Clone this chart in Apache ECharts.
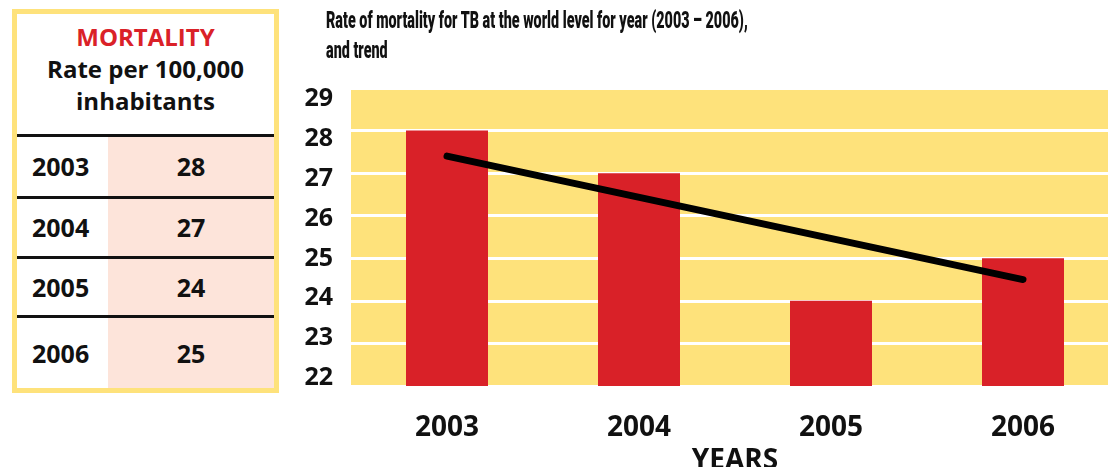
<!DOCTYPE html>
<html>
<head>
<meta charset="utf-8">
<script src="https://cdn.jsdelivr.net/npm/echarts@6/dist/echarts.min.js"></script>
<style>
  html, body { margin: 0; padding: 0; background: #fff; }
  #chart { position: absolute; left: 0; top: 0; width: 1108px; height: 467px; }
  #title {
    position: absolute; left: 326px; top: 6px; white-space: nowrap;
    font-family: Roboto, sans-serif; font-weight: 900; font-size: 23px; line-height: 29.5px;
    color: #111; transform-origin: 0 0;
  }
  #table {
    position: absolute; left: 12px; top: 9px; width: 267px; height: 384px;
    box-sizing: border-box; border: 5px solid #fee27b; background: #fff;
    font-family: 'Open Sans', sans-serif; font-weight: bold; color: #111;
    display: flex; flex-direction: column;
  }
  #table .head { height: 120px; text-align: center; font-size: 24px; line-height: 32px; padding-top: 7px; box-sizing: border-box; }
  #table .head .red { color: #da2128; }
  #table .row { display: flex; border-top: 3px solid #111; font-size: 25px; }
  #table .row .y { width: 91px; padding-left: 15px; box-sizing: border-box; display: flex; align-items: center; }
  #table .row .v { flex: 1; background: #fde4da; display: flex; align-items: center; justify-content: center; }
</style>
</head>
<body>
<div id="chart"></div>
<div id="title"></div>
<div id="table">
  <div class="head"><span class="red">MORTALITY</span><br>Rate per 100,000<br>inhabitants</div>
</div>
<script>
// 数据
const years = ['2003', '2004', '2005', '2006'];
const rates = [28, 27, 24, 25];
// 趋势线，只读两端点
const trend = [27.4, null, null, 24.5];
const rowHeights = [59, 58, 56, 70];
const yTicks = { min: 22, max: 29, step: 1 };

const titleLines = ['Rate of mortality for TB at the world level for year (2003 \u2013 2006),', 'and trend'];

// 标题（窄字体，横向压缩到原图宽度）
const titleEl = document.getElementById('title');
titleEl.innerHTML = titleLines.join('<br>');
titleEl.style.transform = 'scaleX(' + (422 / titleEl.offsetWidth) + ')';

// 左侧表格
const table = document.getElementById('table');
years.forEach((y, i) => {
  const row = document.createElement('div');
  row.className = 'row';
  row.style.height = rowHeights[i] + 'px';
  row.innerHTML = '<div class="y">' + y + '</div><div class="v">' + rates[i] + '</div>';
  table.appendChild(row);
});

const chart = echarts.init(document.getElementById('chart'));
const bold = { fontFamily: 'Open Sans', fontWeight: 'bold', color: '#111' };

chart.setOption({
  animation: false,
  grid: [
    { left: 351, top: 88, width: 768, height: 298, show: true, backgroundColor: '#fee27b', borderWidth: 0, outerBoundsMode: 'none', containLabel: false },
    { left: 351, top: 99, width: 10, height: 279, show: false, outerBoundsMode: 'none', containLabel: false }
  ],
  xAxis: [{
    type: 'category',
    gridIndex: 0,
    data: years,
    axisLine: { show: false },
    axisTick: { show: false },
    axisLabel: Object.assign({ fontSize: 28, margin: 28 }, bold),
    name: 'YEARS',
    nameLocation: 'middle',
    nameGap: 61,
    nameTextStyle: Object.assign({ fontSize: 28 }, bold)
  }, {
    type: 'category',
    gridIndex: 1,
    data: years,
    show: false
  }],
  yAxis: [{
    type: 'value',
    gridIndex: 0,
    min: yTicks.min, max: yTicks.max, interval: yTicks.step,
    axisLine: { show: false },
    axisTick: { show: false },
    axisLabel: { show: false },
    splitLine: { lineStyle: { color: '#fff', width: 3 } }
  }, {
    type: 'value',
    gridIndex: 1,
    min: yTicks.min, max: yTicks.max, interval: yTicks.step,
    axisLine: { show: false },
    axisTick: { show: false },
    splitLine: { show: false },
    axisLabel: Object.assign({ fontSize: 25, margin: 18 }, bold)
  }],
  series: [{
    type: 'bar',
    data: rates,
    barWidth: 82,
    itemStyle: { color: '#d92128' }
  }, {
    type: 'line',
    data: trend,
    connectNulls: true,
    symbol: 'none',
    z: 5,
    lineStyle: { color: '#000', width: 7, cap: 'round' }
  }]
});
</script>
</body>
</html>
